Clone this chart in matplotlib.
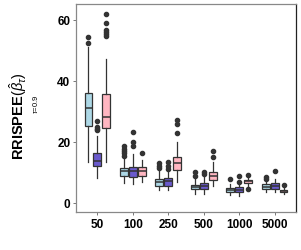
import numpy as np
import matplotlib
matplotlib.use("Agg")
import matplotlib.pyplot as plt

plt.rcParams['font.family'] = ['Liberation Sans', 'DejaVu Sans']
plt.rcParams['mathtext.fontset'] = 'custom'
plt.rcParams['mathtext.rm'] = 'Liberation Sans'
plt.rcParams['mathtext.it'] = 'Liberation Sans:italic'
plt.rcParams['mathtext.bf'] = 'Liberation Sans:bold'

# Stichprobengroessen (x-Achse)
sizes = ["50", "100", "250", "500", "1000", "5000"]
methods = ["A", "B", "C"]
colors = ["#ADD8E6", "#6A5ACD", "#FFB6C1"]

# Boxplot-Kennzahlen je Methode: (whislo, q1, med, q3, whishi)
stats_a = [(13.5, 25.2, 31.0, 36.0, 51.0),
           (6.6, 8.8, 10.5, 11.4, 14.5),
           (4.3, 5.7, 7.0, 7.9, 10.6),
           (3.0, 4.5, 5.35, 5.9, 7.9),
           (2.7, 3.5, 4.3, 4.9, 6.2),
           (3.5, 4.6, 5.35, 6.1, 7.3)]
stats_b = [(8.2, 12.1, 13.8, 16.3, 22.0),
           (6.3, 8.4, 10.4, 11.9, 16.0),
           (4.3, 5.7, 7.1, 8.1, 10.6),
           (3.0, 4.5, 5.5, 6.5, 8.4),
           (2.4, 3.5, 4.3, 5.1, 6.4),
           (3.5, 4.6, 5.5, 6.5, 7.9)]
stats_c = [(13.3, 24.6, 28.1, 35.7, 47.2),
           (6.8, 8.95, 10.6, 11.7, 14.0),
           (6.8, 10.9, 13.0, 15.0, 19.9),
           (5.5, 7.5, 8.95, 10.3, 13.3),
           (5.6, 6.6, 7.1, 7.6, 8.3),
           (3.0, 3.5, 3.8, 4.2, 5.1)]

# Ausreisser
fliers_a = [[54.4, 52.4], [15.5, 16.2, 17.0, 17.8, 18.5], [11.6, 12.2, 13.0],
            [8.95, 10.1], [7.9], [7.9, 8.6]]
fliers_b = [[23.8, 24.3, 24.9, 26.9], [18.8, 19.9, 23.2], [11.1, 12.2, 13.3],
            [9.5, 10.3], [7.0, 8.95], [10.4]]
fliers_c = [[54.7, 55.2, 55.9, 56.7, 59.0, 61.7], [16.3], [23.0, 26.0, 27.0],
            [15.0, 17.0], [4.6, 9.2], [5.9]]

all_stats = [stats_a, stats_b, stats_c]
all_fliers = [fliers_a, fliers_b, fliers_c]
offsets = [-0.25, 0.0, 0.25]

fig = plt.figure(figsize=(3.01, 2.51), dpi=100)
ax = fig.add_axes([76 / 301, 38 / 251, 220 / 301, 208 / 251])

edge = "#333333"
for k in range(3):
    bxp_stats = []
    for i in range(len(sizes)):
        lo, q1, med, q3, hi = all_stats[k][i]
        bxp_stats.append(dict(whislo=lo, q1=q1, med=med, q3=q3, whishi=hi,
                              fliers=all_fliers[k][i]))
    pos = np.arange(len(sizes)) + offsets[k]
    ax.bxp(bxp_stats, positions=pos, widths=0.22, patch_artist=True,
           showcaps=False, manage_ticks=False,
           boxprops=dict(facecolor=colors[k], edgecolor=edge, linewidth=0.9),
           medianprops=dict(color=edge, linewidth=1.1),
           whiskerprops=dict(color=edge, linewidth=0.9),
           flierprops=dict(marker="o", markerfacecolor=edge, markeredgecolor=edge,
                           markersize=3.0, linestyle="none"))

ax.set_xlim(-0.6, 5.6)
ax.set_ylim(-2.95, 65.1)
ax.set_xticks(np.arange(len(sizes)))
ax.set_xticklabels(sizes)
ax.set_yticks([0, 20, 40, 60])
for lab in ax.get_xticklabels() + ax.get_yticklabels():
    lab.set_fontweight("bold")
    lab.set_fontsize(8.5)
    lab.set_color("black")
ax.tick_params(length=2.5, width=0.7, color="#777777", pad=1.5)

for s in ["left", "bottom", "top"]:
    ax.spines[s].set_color("#888888")
    ax.spines[s].set_linewidth(0.9)
ax.spines["right"].set_color("#222222")
ax.spines["right"].set_linewidth(0.9)

# Achsenbeschriftung
fig.text(18 / 301, 1 - 116 / 251, r"RRISPEE$(\hat{\beta}_{\tau})$", rotation=90,
         ha="center", va="center", fontsize=10.5, fontweight="bold")
fig.text(35 / 301, 1 - 104 / 251, r"$\tau$=0.9", rotation=90,
         ha="center", va="center", fontsize=5.5)

fig.savefig("out.png", dpi=100)
